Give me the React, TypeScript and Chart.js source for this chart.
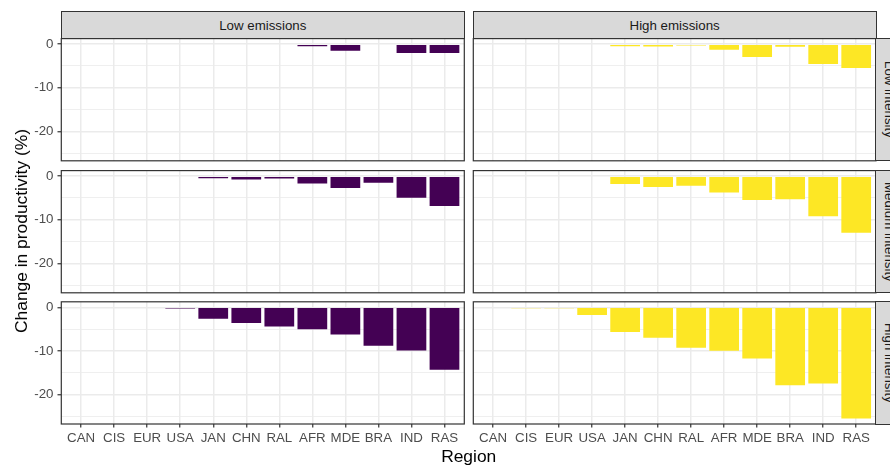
import React, { useEffect, useRef } from 'react';
import { Chart, registerables } from 'chart.js';

Chart.register(...registerables);

// ---------------- data ----------------
const regions = ['CAN', 'CIS', 'EUR', 'USA', 'JAN', 'CHN', 'RAL', 'AFR', 'MDE', 'BRA', 'IND', 'RAS'];

const lowEmissionsLowIntensity = [0, 0, 0, 0, 0, 0, 0, -0.5, -1.5, 0, -2.05, -2.05];
const highEmissionsLowIntensity = [0, 0, 0, 0, -0.46, -0.53, -0.3, -1.29, -2.97, -0.61, -4.56, -5.48];
const lowEmissionsMediumIntensity = [0, 0, 0, 0, -0.46, -0.76, -0.53, -1.67, -2.74, -1.52, -4.94, -6.84];
const highEmissionsMediumIntensity = [0, 0, 0, 0, -1.83, -2.51, -2.2, -3.73, -5.48, -5.32, -9.2, -13.0];
const lowEmissionsHighIntensity = [0, 0, 0, -0.25, -2.59, -3.57, -4.41, -5.02, -6.24, -8.82, -9.89, -14.3];
const highEmissionsHighIntensity = [0, -0.22, -0.22, -1.75, -5.63, -7.0, -9.28, -9.96, -11.71, -17.87, -17.49, -25.48];

const emissionLabels = ['Low emissions', 'High emissions'];
const intensityLabels = ['Low intensity', 'Medium intensity', 'High intensity'];
const seriesColors = ['#440154', '#FDE725'];

const panelValues = [
  [lowEmissionsLowIntensity, highEmissionsLowIntensity],
  [lowEmissionsMediumIntensity, highEmissionsMediumIntensity],
  [lowEmissionsHighIntensity, highEmissionsHighIntensity],
];

const Y_MIN = -26.75;
const Y_MAX = 1.27;
const Y_MAJOR_STEP = 10;
const Y_MINOR_STEP = 5;
const X_MIN = -0.6;
const X_MAX = regions.length - 1 + 0.6;

// ---------------- layout ----------------
const FONT = '"Liberation Sans", Arial, Helvetica, sans-serif';
const COL_X: [number, number][] = [
  [61.3, 464.3],
  [473.3, 876.0],
];
const ROW_Y: [number, number][] = [
  [38.6, 160.8],
  [170.6, 292.8],
  [301.8, 424.0],
];
const GRID = '#EBEBEB';
const DARK = '#333333';

const borderPlugin = {
  id: 'panelBorder',
  afterDraw(chart: any) {
    const { ctx, chartArea: a } = chart;
    ctx.save();
    ctx.strokeStyle = DARK;
    ctx.lineWidth = 1.2;
    ctx.strokeRect(a.left, a.top, a.right - a.left, a.bottom - a.top);
    ctx.restore();
  },
};

const zeroPad = (s: any) => {
  s.paddingTop = 0;
  s.paddingBottom = 0;
  s.paddingLeft = 0;
  s.paddingRight = 0;
};

function Panel({ row, col }: { row: number; col: number }) {
  const ref = useRef<HTMLCanvasElement>(null);
  const isLeft = col === 0;
  const isBottom = row === ROW_Y.length - 1;
  const [x0, x1] = COL_X[col];
  const [y0, y1] = ROW_Y[row];
  const cLeft = isLeft ? 0 : Math.floor(x0) - 4;
  const cTop = Math.floor(y0) - 4;
  const cRight = Math.ceil(x1) + 4;
  const cBottom = isBottom ? 465 : Math.ceil(y1) + 4;
  const w = cRight - cLeft;
  const h = cBottom - cTop;
  const yAxisW = isLeft ? x0 - cLeft : 0;
  const xAxisH = isBottom ? 24 : 0;

  useEffect(() => {
    const values = panelValues[row][col];
    const chart = new Chart(ref.current as HTMLCanvasElement, {
      type: 'bar',
      data: {
        datasets: [
          {
            data: values.map((v, i) => ({ x: i, y: v })),
            backgroundColor: seriesColors[col],
            borderWidth: 0,
            barPercentage: 0.9,
            categoryPercentage: 1,
          },
        ],
      },
      plugins: [borderPlugin],
      options: {
        animation: false,
        responsive: false,
        devicePixelRatio: 1,
        layout: {
          padding: {
            left: isLeft ? 0 : x0 - cLeft,
            right: cRight - x1,
            top: y0 - cTop,
            bottom: cBottom - y1 - xAxisH,
          },
        },
        plugins: { legend: { display: false }, tooltip: { enabled: false } },
        scales: {
          x: {
            type: 'linear',
            min: X_MIN,
            max: X_MAX,
            offset: false,
            border: { display: false },
            grid: {
              offset: false,
              color: GRID,
              lineWidth: 1.5,
              drawTicks: isBottom,
              tickLength: 3.6,
              tickColor: DARK,
              tickWidth: 1.2,
            },
            ticks: {
              display: isBottom,
              stepSize: 1,
              includeBounds: false,
              autoSkip: false,
              maxRotation: 0,
              minRotation: 0,
              padding: 2.5,
              color: '#4D4D4D',
              font: { family: FONT, size: 13.3 },
              callback: (v: any) => regions[v] ?? '',
            },
            afterFit: (s: any) => {
              s.height = xAxisH;
              zeroPad(s);
            },
          },
          y: {
            type: 'linear',
            min: Y_MIN,
            max: Y_MAX,
            border: { display: false },
            grid: {
              color: GRID,
              lineWidth: (ctx: any) =>
                ctx.tick && Math.abs(ctx.tick.value % Y_MAJOR_STEP) < 1e-9 ? 1.5 : 0.8,
              drawTicks: isLeft,
              tickLength: 3.8,
              tickWidth: 1.2,
              tickColor: (ctx: any) =>
                ctx.tick && Math.abs(ctx.tick.value % Y_MAJOR_STEP) < 1e-9 ? DARK : 'rgba(0,0,0,0)',
            },
            ticks: {
              display: isLeft,
              stepSize: Y_MINOR_STEP,
              includeBounds: false,
              padding: 4,
              color: '#4D4D4D',
              font: { family: FONT, size: 13.3 },
              callback: (v: any) => (Math.abs(v % Y_MAJOR_STEP) < 1e-9 ? String(v) : ''),
            },
            afterFit: (s: any) => {
              s.width = yAxisW;
              zeroPad(s);
            },
          },
        },
      } as any,
    });
    return () => chart.destroy();
  }, []);

  return (
    <canvas
      ref={ref}
      width={w}
      height={h}
      style={{ position: 'absolute', left: cLeft, top: cTop, width: w, height: h }}
    />
  );
}

export default function App() {
  const stripBase: React.CSSProperties = {
    position: 'absolute',
    boxSizing: 'border-box',
    background: '#D9D9D9',
    border: `1.2px solid ${DARK}`,
    display: 'flex',
    alignItems: 'center',
    justifyContent: 'center',
    color: '#1A1A1A',
    fontFamily: FONT,
    fontSize: 13.3,
    whiteSpace: 'nowrap',
  };
  return (
    <div
      style={{
        position: 'absolute',
        left: 0,
        top: 0,
        width: 890,
        height: 465,
        overflow: 'hidden',
        background: '#FFFFFF',
        fontFamily: FONT,
      }}
    >
      {ROW_Y.map((_, r) => COL_X.map((__, c) => <Panel key={`${r}-${c}`} row={r} col={c} />))}
      {COL_X.map(([a, b], c) => (
        <div
          key={`top-${c}`}
          style={{ ...stripBase, left: a - 0.6, top: 11.4, width: b - a + 1.2, height: ROW_Y[0][0] - 11.4 + 0.6 }}
        >
          {emissionLabels[c]}
        </div>
      ))}
      {ROW_Y.map(([a, b], r) => (
        <div
          key={`right-${r}`}
          style={{
            ...stripBase,
            left: COL_X[1][1] - 0.6,
            top: a - 0.6,
            width: 27.5,
            height: b - a + 1.2,
          }}
        >
          <span style={{ writingMode: 'vertical-rl' }}>{intensityLabels[r]}</span>
        </div>
      ))}
      <div
        style={{
          position: 'absolute',
          left: 21,
          top: 231,
          transform: 'translate(-50%, -50%) rotate(-90deg)',
          whiteSpace: 'nowrap',
          fontSize: 17.4,
          lineHeight: '20px',
          color: '#000000',
        }}
      >
        Change in productivity (%)
      </div>
      <div
        style={{
          position: 'absolute',
          left: 468.7,
          top: 446.4,
          transform: 'translateX(-50%)',
          whiteSpace: 'nowrap',
          fontSize: 17.4,
          lineHeight: '20px',
          color: '#000000',
        }}
      >
        Region
      </div>
    </div>
  );
}
